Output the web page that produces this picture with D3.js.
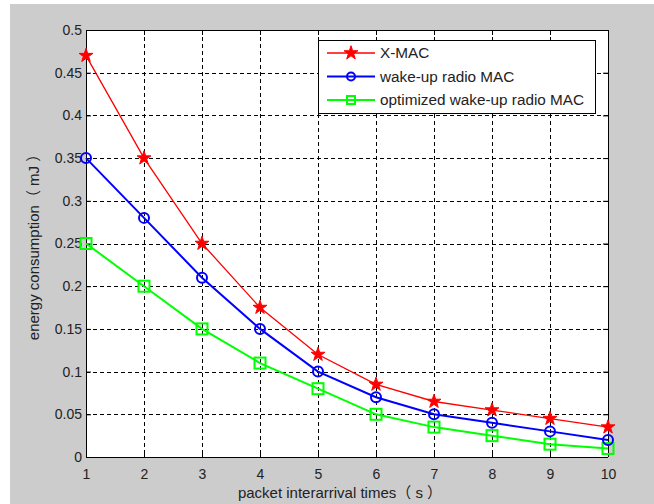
<!DOCTYPE html>
<html><head><meta charset="utf-8">
<script src="https://cdn.jsdelivr.net/npm/d3@7"></script>
<style>
html,body{margin:0;padding:0;background:#fff;}
svg{display:block;font-family:"Liberation Sans",Arial,"Noto Sans CJK SC",sans-serif;}
</style></head><body>
<svg id="c" width="654" height="504"></svg>
<script>
const xValues = [1,2,3,4,5,6,7,8,9,10];
const xmac = [0.47,0.35,0.25,0.175,0.12,0.085,0.065,0.055,0.045,0.035];
const wurMac = [0.35,0.28,0.21,0.15,0.10,0.07,0.05,0.04,0.03,0.02];
const optWurMac = [0.25,0.20,0.15,0.11,0.08,0.05,0.035,0.025,0.015,0.01];
const seriesNames = ["X-MAC","wake-up radio MAC","optimized wake-up radio MAC"];
const yTicks = [0,0.05,0.1,0.15,0.2,0.25,0.3,0.35,0.4,0.45,0.5];
const xTicks = [1,2,3,4,5,6,7,8,9,10];
const xLabel = "packet interarrival times（ s ）";
const yLabel = "energy consumption（ mJ ）";

const svg = d3.select("#c");
svg.append("rect").attr("x",10).attr("y",4).attr("width",644).attr("height",500).attr("fill","#cccccc");
const L=86, R=608, T=30, B=457;
const x = d3.scaleLinear().domain([1,10]).range([L,R]);
const y = d3.scaleLinear().domain([0,0.5]).range([B,T]);
svg.append("rect").attr("x",L).attr("y",T).attr("width",R-L).attr("height",B-T).attr("fill","#fff");

// grid
const g = svg.append("g");
g.selectAll(".gx").data(xTicks.slice(1,-1)).enter().append("line")
 .attr("x1",d=>Math.round(x(d))+0.5).attr("x2",d=>Math.round(x(d))+0.5).attr("y1",T).attr("y2",B)
 .attr("stroke","#000").attr("stroke-dasharray","4,3").attr("stroke-width",1);
g.selectAll(".gy").data(yTicks.slice(1,-1)).enter().append("line")
 .attr("y1",d=>Math.round(y(d))+0.5).attr("y2",d=>Math.round(y(d))+0.5).attr("x1",L).attr("x2",R)
 .attr("stroke","#000").attr("stroke-dasharray","4,3").attr("stroke-width",1);

// axes
const fmt = d=>d3.format("")(+d.toFixed(2));
const ax = svg.append("g").attr("transform",`translate(0,${B})`)
 .call(d3.axisBottom(x).tickValues(xTicks).tickSize(-5).tickPadding(12).tickFormat(d3.format("d")));
const ay = svg.append("g").attr("transform",`translate(${L},0)`)
 .call(d3.axisLeft(y).tickValues(yTicks).tickSize(-5).tickPadding(4).tickFormat(fmt));
const axT = svg.append("g").attr("transform",`translate(0,${T})`)
 .call(d3.axisTop(x).tickValues(xTicks).tickSize(-5).tickFormat(""));
const ayR = svg.append("g").attr("transform",`translate(${R},0)`)
 .call(d3.axisRight(y).tickValues(yTicks).tickSize(-5).tickFormat(""));
[ax,ay,axT,ayR].forEach(a=>{
  a.selectAll(".domain").attr("stroke","#000").attr("stroke-width",1);
  a.selectAll(".tick line").attr("stroke","#000");
  a.selectAll("text").attr("fill","#222").style("font-size","14px").style("font-family",'"Liberation Sans",Arial,sans-serif');
});
ax.select(".domain").attr("d",`M${L},0.5H${R}`);
ay.select(".domain").attr("d",`M0.5,${T}V${B}`);
axT.select(".domain").attr("d",`M${L},0.5H${R}`);
ayR.select(".domain").attr("d",`M0.5,${T}V${B}`);

// labels
svg.append("text").attr("x",(L+R)/2-7).attr("y",498).attr("text-anchor","middle")
 .attr("fill","#222").style("font-size","15px").text(xLabel);
svg.append("text").attr("transform",`translate(39,${(T+B)/2}) rotate(-90)`).attr("text-anchor","middle")
 .attr("fill","#222").style("font-size","15px").text(yLabel);

const series = [
 {name:seriesNames[0],vals:xmac,color:"#ff0000",w:1.3,marker:"star"},
 {name:seriesNames[1],vals:wurMac,color:"#0000ff",w:2,marker:"circle"},
 {name:seriesNames[2],vals:optWurMac,color:"#00ff00",w:2,marker:"square"}
];
const line = d3.line().x((d,i)=>x(xValues[i])).y(d=>y(d));
const starPath = d3.symbol().type(d3.symbolStar).size(60)();
function drawMarker(sel, m, color){
  if(m==="star") sel.append("path").attr("d",starPath).attr("fill",color).attr("stroke",color).attr("stroke-width",1);
  else if(m==="circle") sel.append("circle").attr("r",5).attr("fill","none").attr("stroke",color).attr("stroke-width",2);
  else sel.append("rect").attr("x",-5.5).attr("y",-5.5).attr("width",11).attr("height",11).attr("fill","none").attr("stroke",color).attr("stroke-width",2);
}
series.slice().reverse().forEach(s=>{
  svg.append("path").datum(s.vals).attr("d",line).attr("fill","none").attr("stroke",s.color).attr("stroke-width",s.w);
  s.vals.forEach((v,i)=>{
    const m = svg.append("g").attr("transform",`translate(${x(xValues[i])},${y(v)})`);
    drawMarker(m,s.marker,s.color);
  });
});

// legend
const lg = svg.append("g");
lg.append("rect").attr("x",318.5).attr("y",40.5).attr("width",277).attr("height",73).attr("fill","#fff").attr("stroke","#000").attr("stroke-width",1);
series.forEach((s,i)=>{
  const yy = 53 + i*23.5;
  lg.append("line").attr("x1",327).attr("x2",375).attr("y1",yy).attr("y2",yy).attr("stroke",s.color).attr("stroke-width",s.w);
  const m = lg.append("g").attr("transform",`translate(351,${yy})`);
  if(s.marker==="star") m.append("path").attr("d",starPath).attr("fill",s.color).attr("stroke",s.color);
  else if(s.marker==="circle") m.append("circle").attr("r",4).attr("fill","none").attr("stroke",s.color).attr("stroke-width",2);
  else m.append("rect").attr("x",-4).attr("y",-4).attr("width",8).attr("height",8).attr("fill","none").attr("stroke",s.color).attr("stroke-width",2);
  lg.append("text").attr("x",380).attr("y",yy+5).attr("fill","#222").style("font-size","15.3px").text(s.name);
});
</script></body></html>
